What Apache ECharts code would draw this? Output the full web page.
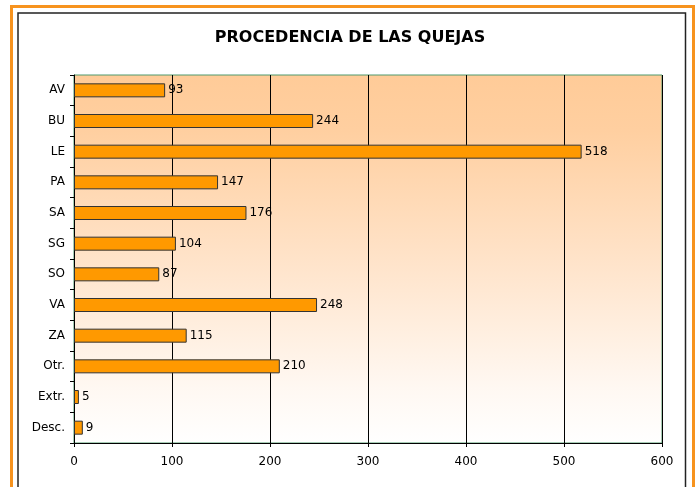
<!DOCTYPE html>
<html>
<head>
<meta charset="utf-8">
<script src="https://cdn.jsdelivr.net/npm/echarts@6/dist/echarts.min.js"></script>
<style>
  html, body { margin: 0; padding: 0; background: #fff; }
  #chart { width: 700px; height: 487px; }
</style>
</head>
<body>
<div id="chart"></div>
<script>
// procedencia de las quejas
const categories = ['AV', 'BU', 'LE', 'PA', 'SA', 'SG', 'SO', 'VA', 'ZA', 'Otr.', 'Extr.', 'Desc.']
const quejas = [93, 244, 518, 147, 176, 104, 87, 248, 115, 210, 5, 9]
const xTicks = [0, 100, 200, 300, 400, 500, 600]

const chart = echarts.init(document.getElementById('chart'))

const font = 'Tahoma, "DejaVu Sans", sans-serif'

const option = {
  backgroundColor: '#fff',
  animation: false,
  title: {
    text: 'PROCEDENCIA DE LAS QUEJAS',
    left: 'center',
    top: 25,
    textStyle: { fontFamily: font, fontSize: 16, fontWeight: 'bold', color: '#000' }
  },
  graphic: [
    {
      type: 'rect',
      shape: { x: 11.5, y: 6.5, width: 682, height: 500 },
      style: { fill: 'none', stroke: '#F7931E', lineWidth: 3 }
    },
    {
      type: 'rect',
      shape: { x: 18, y: 13, width: 667.5, height: 500 },
      style: { fill: 'none', stroke: '#222', lineWidth: 1.5 }
    }
  ],
  grid: {
    left: 74,
    right: 38,
    top: 75,
    bottom: 44,
    show: true,
    borderColor: '#4f9a6c',
    borderWidth: 1,
    backgroundColor: new echarts.graphic.LinearGradient(0, 0, 0, 1, [
      { offset: 0, color: '#ffcb98' },
      { offset: 0.15, color: '#ffcfa0' },
      { offset: 0.5, color: '#ffe3c9' },
      { offset: 0.85, color: '#fff8f2' },
      { offset: 1, color: '#ffffff' }
    ])
  },
  xAxis: {
    type: 'value',
    min: 0,
    max: 600,
    interval: 100,
    axisLine: { show: true, lineStyle: { color: '#000', width: 1 } },
    axisTick: { show: true, length: 4, lineStyle: { color: '#000' } },
    axisLabel: {
      margin: 13,
      fontFamily: font,
      fontSize: 12,
      color: '#000',
      formatter: v => (xTicks.includes(v) ? String(v) : '')
    },
    splitLine: { show: true, lineStyle: { color: '#000', width: 1 } }
  },
  yAxis: {
    type: 'category',
    data: categories,
    inverse: true,
    axisLine: { show: true, lineStyle: { color: '#000', width: 1 } },
    axisTick: { show: true, length: 4, lineStyle: { color: '#000' } },
    axisLabel: { margin: 9, fontFamily: font, fontSize: 12, color: '#000' }
  },
  series: [
    {
      name: 'Quejas',
      type: 'bar',
      data: quejas,
      barWidth: 14,
      itemStyle: { color: '#FF9900', borderColor: '#333', borderWidth: 1 },
      label: {
        show: true,
        position: 'right',
        distance: 3,
        fontFamily: font,
        fontSize: 12,
        color: '#000'
      }
    }
  ]
}

chart.setOption(option)
</script>
</body>
</html>
